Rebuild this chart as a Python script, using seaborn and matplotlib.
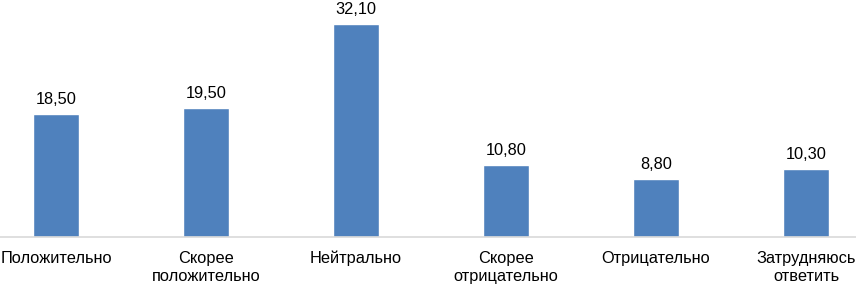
import matplotlib
matplotlib.use("Agg")
import matplotlib.pyplot as plt
import seaborn as sns
import pandas as pd

categories = ["Положительно", "Скорее\nположительно", "Нейтрально",
              "Скорее\nотрицательно", "Отрицательно", "Затрудняюсь\nответить"]
values = [18.5, 19.5, 32.1, 10.8, 8.8, 10.3]
value_labels = ["18,50", "19,50", "32,10", "10,80", "8,80", "10,30"]

sns.set_theme(style="white")
plt.rcParams['font.family'] = ['Liberation Sans', 'DejaVu Sans']

df = pd.DataFrame({"cat": categories, "val": values})

fig = plt.figure(figsize=(8.56, 2.87), dpi=100)
ax = fig.add_axes([-19/856, 50/287, 900/856, 232.3/287])
sns.barplot(data=df, x="cat", y="val", color="#4F81BD", width=0.313,
            saturation=1, ax=ax)
ax.set_ylim(0, 35)
ax.set_xlim(-0.5, len(categories) - 0.5)
ax.set_xlabel("")
ax.set_ylabel("")
ax.set_yticks([])
for s in ["top", "right", "left"]:
    ax.spines[s].set_visible(False)
ax.spines["bottom"].set_color("#D9D9D9")
ax.spines["bottom"].set_linewidth(1.2)
ax.tick_params(axis="x", length=0, pad=10, labelsize=11.8, colors="#000000")
for lbl in ax.get_xticklabels():
    lbl.set_linespacing(1.3)
for i, (v, t) in enumerate(zip(values, value_labels)):
    ax.annotate(t, (i, v), xytext=(0, 5), textcoords="offset points",
                ha="center", va="bottom", fontsize=11.8, color="#000000")

fig.savefig("out.png", dpi=100)
